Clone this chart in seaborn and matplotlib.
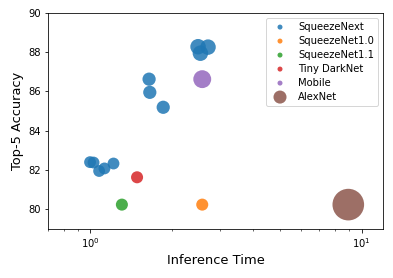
import matplotlib
matplotlib.use("Agg")
import matplotlib.pyplot as plt
import seaborn as sns
import pandas as pd

models = ["SqueezeNext"] * 11 + ["SqueezeNet1.0", "SqueezeNet1.1", "Tiny DarkNet", "Mobile", "AlexNet"]
inference_time = [1.00, 1.03, 1.08, 1.13, 1.22, 1.65, 1.66, 1.86, 2.50, 2.55, 2.72,
                  2.59, 1.31, 1.49, 2.59, 8.94]
top5_accuracy = [82.40, 82.38, 81.95, 82.08, 82.33, 86.62, 85.95, 85.19, 88.27, 87.94, 88.25,
                 80.24, 80.24, 81.63, 86.62, 80.24]
model_size = [140, 140, 140, 140, 140, 175, 175, 175, 240, 240, 240,
              145, 145, 145, 320, 1000]
legend_order = ["SqueezeNext", "SqueezeNet1.0", "SqueezeNet1.1", "Tiny DarkNet", "Mobile", "AlexNet"]
legend_sizes = [25, 25, 25, 25, 25, 170]

df = pd.DataFrame({"model": models, "time": inference_time,
                   "acc": top5_accuracy, "size": model_size})

palette = dict(zip(legend_order, sns.color_palette("tab10", 6)))

fig = plt.figure(figsize=(393 / 72, 278 / 72), dpi=72)
ax = fig.add_axes([48 / 393, 1 - 229 / 278, (383 - 48) / 393, (229 - 12.7) / 278])

for m in legend_order:
    sub = df[df["model"] == m]
    ax.scatter(sub["time"], sub["acc"], s=sub["size"], color=palette[m], alpha=0.85,
               edgecolors="none")

ax.set_xscale("log")
ax.set_xlim(0.7, 12)
ax.set_ylim(79, 90)
ax.set_yticks([80, 82, 84, 86, 88, 90])
ax.tick_params(labelsize=10)
ax.set_xlabel("Inference Time", fontsize=13)
ax.set_ylabel("Top-5 Accuracy", fontsize=13)

handles = [ax.scatter([], [], s=s, color=palette[m], alpha=0.85, edgecolors="none")
           for m, s in zip(legend_order, legend_sizes)]
ax.legend(handles, legend_order, loc="upper right", fontsize=10, scatterpoints=1,
          labelspacing=0.4)

fig.savefig("out.png", dpi=72)
